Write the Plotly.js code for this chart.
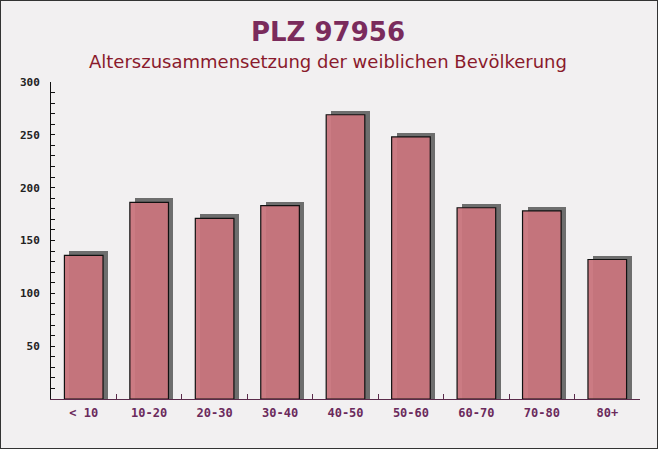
<!DOCTYPE html>
<html><head><meta charset="utf-8">
<script src="https://cdn.plot.ly/plotly-3.0.1.min.js"></script>
<style>
html,body{margin:0;padding:0;background:#f2f0f1;}
#wrap{position:relative;width:658px;height:449px;}
#chart{width:658px;height:449px;}
#frame{position:absolute;left:0;top:0;width:658px;height:449px;box-sizing:border-box;border:1px solid #333;pointer-events:none;}
</style></head>
<body>
<div id="wrap"><div id="chart"></div><div id="frame"></div></div>
<script>
const categories = ["< 10","10-20","20-30","30-40","40-50","50-60","60-70","70-80","80+"];
const values = [136, 186, 171, 183, 269, 248, 181, 178, 132];
const yTicks = [50, 100, 150, 200, 250, 300];
const titleText = "PLZ 97956";
const subtitleText = "Alterszusammensetzung der weiblichen Bevölkerung";

const barW = 0.59;
const shadowDx = 0.076;
const shadowDy = 3.8;

const shadow = {
  type: 'bar', x: categories, y: values.map(v => v + shadowDy),
  width: barW, offset: -barW/2 + shadowDx,
  marker: {color: '#6e6e6e', line: {width: 0}},
  hoverinfo: 'skip', showlegend: false
};
const bars = {
  type: 'bar', x: categories, y: values,
  width: barW, offset: -barW/2,
  marker: {color: 'rgba(200,116,124,0.95)', line: {color: '#111', width: 1.2}},
  showlegend: false
};

const layout = {
  width: 658, height: 449,
  margin: {l: 51, r: 18, t: 82, b: 50},
  paper_bgcolor: '#f2f0f1', plot_bgcolor: 'rgba(0,0,0,0)',
  barmode: 'overlay', bargap: 0,
  showlegend: false,
  xaxis: {
    type: 'category', tickson: 'boundaries', ticks: 'inside', ticklen: 5,
    tickcolor: '#5a2a4a', showline: true, linecolor: '#5a2a4a', linewidth: 1,
    showgrid: false, zeroline: false, range: [-0.5, 8.5],
    tickfont: {family: 'DejaVu Sans Mono', size: 12, color: '#6b2a5c', weight: 'bold'},
    ticklabelstandoff: 3
  },
  yaxis: {
    range: [0, 300], tickvals: yTicks, ticks: 'inside', ticklen: 4,
    tickcolor: '#111', showline: true, linecolor: '#111', linewidth: 1,
    showgrid: false, zeroline: false,
    tickfont: {family: 'DejaVu Sans Mono', size: 11, color: '#222', weight: 'bold'},
    ticklabelstandoff: 8,
    minor: {dtick: 10, ticks: 'inside', ticklen: 4, tickcolor: '#111', showgrid: false}
  },
  annotations: [
    {text: titleText, xref: 'paper', yref: 'paper', x: 0.47, y: 1 + 50/317, xanchor: 'center', yanchor: 'middle',
     showarrow: false, font: {family: 'DejaVu Sans', size: 26, color: '#7a2b5c', weight: 'bold'}},
    {text: subtitleText, xref: 'paper', yref: 'paper', x: 0.47, y: 1 + 20/317, xanchor: 'center', yanchor: 'middle',
     showarrow: false, font: {family: 'DejaVu Sans', size: 18, color: '#8a1a2c'}}
  ]
};

Plotly.newPlot('chart', [shadow, bars], layout, {displayModeBar: false, staticPlot: true});
</script>
</body></html>
